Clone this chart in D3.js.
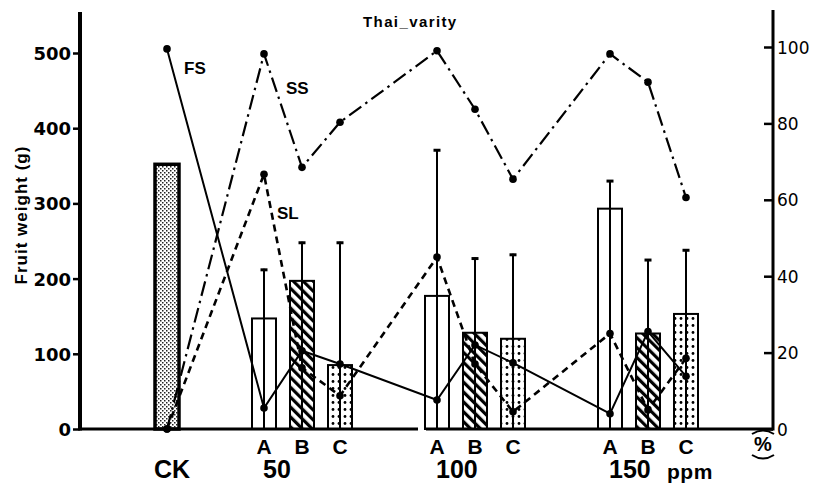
<!DOCTYPE html>
<html><head><meta charset="utf-8">
<script src="https://cdn.jsdelivr.net/npm/d3@7"></script>
<style>body{margin:0;background:#fff}svg{display:block}</style>
</head><body><svg id="c" width="822" height="490"></svg>
<script>
// ---- data ----
const groups = ["CK","50","100","150"];
const subs = ["A","B","C"];
const categories = ["CK","50A","50B","50C","100A","100B","100C","150A","150B","150C"];
const fruitWeight = [352,147,197,85,177,128,120,293,127,153];
const errorTop    = [null,213,249,249,372,228,233,331,226,239];
const fsPct = [99.5,5.5,20.5,17,7.6,22,17.3,4,25.5,13.8];
const ssPct = [0,98.2,68.5,80.3,99,83.7,65.4,98.2,90.8,60.6];
const slPct = [0,66.7,16,8.7,45,17,4.5,25,5,18.5];
const leftTicks = [0,100,200,300,400,500];
const rightTicks = [0,20,40,60,80,100];
const seriesLabels = ["FS","SS","SL"];

// ---- layout ----
const svg = d3.select("#c");
const baseY = 429, leftX = 80, rightX = 773;
const yL = d3.scaleLinear().domain([0,500]).range([baseY,53]);
const yR = d3.scaleLinear().domain([0,100]).range([baseY,47]);
const xOuter = d3.scalePoint().domain(groups).range([91,610]);
const inner = d3.scalePoint().domain(subs).range([0,76]);
const groupOf = c => c==="CK" ? "CK" : c.slice(0,-1);
const subOf = c => c==="CK" ? null : c.slice(-1);
const xOf = c => c==="CK" ? xOuter("CK")+inner.range()[1] : xOuter(groupOf(c))+inner(subOf(c));
const bw = 24;

const defs = svg.append("defs");
const hatch = defs.append("pattern").attr("id","hatch").attr("patternUnits","userSpaceOnUse")
  .attr("width",7).attr("height",7).attr("patternTransform","rotate(-45)");
hatch.append("rect").attr("width",7).attr("height",7).attr("fill","#fff");
hatch.append("rect").attr("width",3.2).attr("height",7).attr("fill","#000");
const dots = defs.append("pattern").attr("id","dots").attr("patternUnits","userSpaceOnUse")
  .attr("width",6).attr("height",7);
dots.append("rect").attr("width",6).attr("height",7).attr("fill","#fff");
dots.append("circle").attr("cx",3).attr("cy",3.5).attr("r",1.4).attr("fill","#000");
const stip = defs.append("pattern").attr("id","stip").attr("patternUnits","userSpaceOnUse")
  .attr("width",4).attr("height",4);
stip.append("rect").attr("width",4).attr("height",4).attr("fill","#fff");
stip.append("rect").attr("x",0).attr("y",0).attr("width",1.5).attr("height",1.5).attr("fill","#222");
stip.append("rect").attr("x",2).attr("y",2).attr("width",1.5).attr("height",1.5).attr("fill","#222");

const fillOf = c => c==="CK" ? "url(#stip)" : ({A:"#fff",B:"url(#hatch)",C:"url(#dots)"})[subOf(c)];

// bars
const barData = categories.map((c,i)=>({c, v:fruitWeight[i], e:errorTop[i]}));
svg.append("g").selectAll("rect").data(barData).join("rect")
  .attr("x",d=>xOf(d.c)-bw/2).attr("width",bw)
  .attr("y",d=>yL(d.v)).attr("height",d=>yL(0)-yL(d.v))
  .attr("fill",d=>fillOf(d.c)).attr("stroke","#000")
  .attr("stroke-width",d=>d.c==="CK"?3.5:2);

// error bars
const eb = svg.append("g").selectAll("g").data(barData.filter(d=>d.e!=null)).join("g");
eb.append("line").attr("x1",d=>xOf(d.c)).attr("x2",d=>xOf(d.c))
  .attr("y1",yL(0)).attr("y2",d=>yL(d.e)).attr("stroke","#000").attr("stroke-width",2);
eb.append("line").attr("x1",d=>xOf(d.c)-3.5).attr("x2",d=>xOf(d.c)+3.5)
  .attr("y1",d=>yL(d.e)+1).attr("y2",d=>yL(d.e)+1).attr("stroke","#000").attr("stroke-width",3);

// lines
const lineGen = d3.line().x(d=>xOf(d.c)).y(d=>yR(d.v));
const series = [
  {name:"FS", vals:fsPct, dash:null, w:2},
  {name:"SS", vals:ssPct, dash:"15,5,2.5,5", w:2.2},
  {name:"SL", vals:slPct, dash:"7,5", w:2.6}
];
series.forEach(s=>{
  const pts = categories.map((c,i)=>({c, v:s.vals[i]}));
  svg.append("path").datum(pts).attr("d",lineGen).attr("fill","none")
    .attr("stroke","#000").attr("stroke-width",s.w)
    .attr("stroke-dasharray",s.dash);
  svg.append("g").selectAll("circle").data(pts).join("circle")
    .attr("cx",d=>xOf(d.c)).attr("cy",d=>yR(d.v)).attr("r",3.8).attr("fill","#000");
});

// axes
const gl = svg.append("g").attr("transform",`translate(${leftX},0)`)
  .call(d3.axisLeft(yL).tickValues(leftTicks).tickSize(7).tickPadding(2));
gl.select(".domain").remove();
gl.selectAll(".tick line").attr("stroke-width",2.5);
gl.selectAll(".tick text").attr("font-family","DejaVu Sans").attr("font-weight","bold")
  .attr("font-size",18).attr("fill","#000").attr("dy","0.36em");
svg.append("line").attr("x1",leftX).attr("x2",leftX).attr("y1",12).attr("y2",baseY+1.5)
  .attr("stroke","#000").attr("stroke-width",4);

const gr = svg.append("g").attr("transform",`translate(${rightX},0)`)
  .call(d3.axisRight(yR).tickValues(rightTicks).tickSizeInner(-9).tickSizeOuter(0).tickPadding(4));
gr.select(".domain").remove();
gr.selectAll(".tick line").attr("stroke-width",2.5);
gr.selectAll(".tick text").attr("font-family","DejaVu Sans")
  .attr("font-size",17).attr("fill","#000").attr("dy","0.36em");
svg.append("line").attr("x1",rightX).attr("x2",rightX).attr("y1",10).attr("y2",baseY+1.5)
  .attr("stroke","#000").attr("stroke-width",3);

// baseline (with break)
svg.append("line").attr("x1",leftX).attr("x2",418).attr("y1",baseY).attr("y2",baseY)
  .attr("stroke","#000").attr("stroke-width",3);
svg.append("line").attr("x1",xOf("100A")-11).attr("x2",rightX).attr("y1",baseY).attr("y2",baseY)
  .attr("stroke","#000").attr("stroke-width",3);

// category labels
const lab = svg.append("g").attr("font-family","Liberation Sans, Arial").attr("font-weight","bold").attr("fill","#000");
lab.selectAll("text.sub").data(categories.filter(c=>c!=="CK")).join("text")
  .attr("x",c=>xOf(c)).attr("y",454).attr("text-anchor","middle").attr("font-size",21).text(c=>subOf(c));
lab.append("text").attr("x",xOf("CK")+5).attr("y",478).attr("text-anchor","middle").attr("font-size",25).text("CK");
["50","100","150"].forEach(g=>{
  lab.append("text").attr("x",xOuter(g)-1).attr("y",478).attr("font-size",25).text(g);
});
lab.append("text").attr("x",xOf("150C")-19).attr("y",479).attr("font-size",21).attr("letter-spacing",0.5).text("ppm");
lab.append("text").attr("x",763).attr("y",451).attr("text-anchor","middle").attr("font-size",20).text("%");
svg.append("path").attr("d","M752,434 Q763,427 774,434").attr("fill","none").attr("stroke","#000").attr("stroke-width",2);
svg.append("path").attr("d","M752,455 Q763,462 774,455").attr("fill","none").attr("stroke","#000").attr("stroke-width",2);

// series labels and title
const tl = svg.append("g").attr("font-family","Liberation Sans, Arial").attr("font-weight","bold").attr("fill","#000").attr("font-size",17);
tl.append("text").attr("x",184).attr("y",74).text(seriesLabels[0]);
tl.append("text").attr("x",286).attr("y",94).text(seriesLabels[1]);
tl.append("text").attr("x",277).attr("y",219).text(seriesLabels[2]);
svg.append("text").attr("x",363).attr("y",27).attr("font-family","Liberation Sans, Arial")
  .attr("font-weight","bold").attr("font-size",15).attr("letter-spacing",1.4).text("Thai_varity");
svg.append("text").attr("transform","translate(27,215) rotate(-90)").attr("text-anchor","middle")
  .attr("font-family","Liberation Sans, Arial").attr("font-weight","bold").attr("font-size",17)
  .attr("letter-spacing",1).text("Fruit weight (g)");
</script></body></html>
